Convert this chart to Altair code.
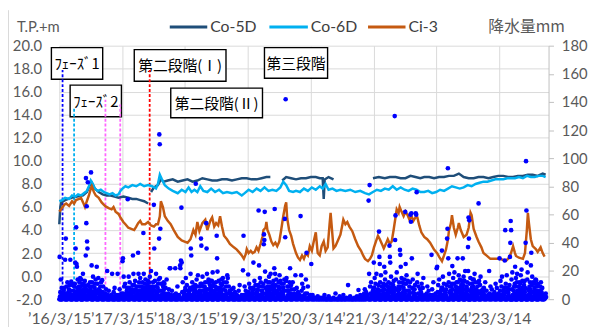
import altair as alt
import pandas as pd

# ---------------- data ----------------
# x unit: days since 2016-03-15
tick_days = [0, 365, 730, 1095, 1460, 1825, 2190, 2555]
tick_labels = ["’16/3/15", "’17/3/15", "’18/3/15", "’19/3/15",
               "’20/3/14", "’21/3/14", "’22/3/14", "’23/3/14"]
x_end = 2842

ci3 = [(0,5.6),(11,5.8),(29,6.2),(40,6.3),(57,6.1),(74,6.5),(86,6.3),(97,6.6),(115,6.7),(126,6.8),
       (138,6.4),(149,6.0),(160,6.5),(172,7.0),(183,7.6),(189,7.8),(201,7.3),(212,7.0),(229,6.8),(246,6.4),
       (258,6.2),(269,6.05),(287,5.9),(304,5.8),(315,6.0),(327,5.6),(344,5.4),(355,5.1),(372,4.7),(384,4.5),
       (401,4.2),(418,4.1),(435,4.0),(447,4.3),(458,4.6),(470,4.8),(481,4.5),(499,4.5),(516,4.7),(533,4.4),
       (550,4.3),(562,4.5),(573,4.5),(584,5.2),(590,6.5),(602,6.0),(613,5.2),(630,4.8),(647,4.5),(665,4.0),
       (688,3.4),(711,3.1),(728,3.0),(745,2.9),(762,3.2),(779,4.0),(791,3.6),(802,4.7),(814,3.9),(831,4.6),
       (848,4.9),(860,4.0),(877,4.8),(888,5.1),(900,4.3),(911,4.6),(923,4.4),(934,5.2),(945,4.3),(957,3.5),
       (974,3.2),(991,2.8),(1014,2.5),(1031,2.3),(1049,2.0),(1060,1.8),(1072,1.5),(1083,1.9),(1089,2.35),(1100,2.0),
       (1112,2.2),(1123,2.0),(1135,2.1),(1146,2.5),(1157,2.2),(1169,2.8),(1180,3.4),(1186,4.0),(1198,4.2),(1203,4.7),
       (1209,4.0),(1220,3.6),(1232,3.0),(1243,2.7),(1255,2.9),(1266,2.6),(1278,3.0),(1289,4.0),(1301,5.2),(1312,6.1),
       (1318,6.4),(1324,5.0),(1335,4.0),(1347,3.5),(1358,2.8),(1375,2.0),(1387,1.6),(1398,1.4),(1410,1.8),(1421,1.5),
       (1433,2.0),(1444,1.8),(1455,2.6),(1467,2.2),(1478,3.0),(1490,3.8),(1501,2.0),(1513,1.8),(1524,2.6),(1536,3.0),
       (1547,2.2),(1559,2.5),(1570,4.5),(1576,5.5),(1587,3.5),(1593,2.4),(1604,2.6),(1616,3.0),(1633,3.6),(1645,4.5),
       (1650,4.9),(1662,4.5),(1673,4.7),(1685,4.3),(1702,3.9),(1719,3.2),(1736,2.6),(1753,2.2),(1765,1.8),(1776,1.5),
       (1793,1.3),(1805,1.5),(1816,1.8),(1828,2.5),(1839,3.0),(1851,3.5),(1862,3.2),(1874,2.8),(1885,2.4),(1897,2.8),
       (1908,3.2),(1920,2.8),(1931,3.0),(1942,4.0),(1954,5.2),(1960,5.8),(1971,5.5),(1977,6.0),(1988,5.6),(2000,5.2),
       (2011,5.6),(2023,5.3),(2034,4.9),(2046,5.2),(2057,4.8),(2069,5.1),(2080,5.1),(2091,4.4),(2103,3.8),(2120,3.4),
       (2137,3.2),(2154,2.9),(2177,2.3),(2195,2.0),(2206,1.7),(2223,1.3),(2235,1.8),(2246,2.3),(2258,3.2),(2263,3.9),
       (2275,4.6),(2281,5.3),(2292,4.2),(2303,3.6),(2315,4.2),(2321,4.6),(2332,4.0),(2349,3.4),(2366,3.6),(2378,4.2),
       (2389,5.5),(2395,5.3),(2407,4.1),(2424,3.4),(2435,3.0),(2452,2.5),(2464,2.0),(2481,1.8),(2504,1.5),(2533,1.5),
       (2561,1.5),(2579,1.4),(2596,1.35),(2613,1.6),(2624,2.0),(2636,2.6),(2647,2.0),(2653,1.75),(2670,1.6),(2693,1.5),
       (2705,2.0),(2716,4.0),(2722,5.5),(2728,4.6),(2739,3.2),(2750,2.6),(2768,2.35),(2779,2.1),(2796,2.5),(2808,2.0),
       (2819,1.7)]

co6d = [(0,6.5),(17,6.6),(34,6.8),(57,6.7),(74,7.0),(92,6.9),(109,7.1),(126,7.0),(143,7.2),(160,7.4),
        (172,7.8),(183,8.3),(195,8.0),(206,7.6),(223,7.4),(241,7.5),(258,7.3),(275,7.2),(292,7.1),(309,7.2),
        (327,7.0),(344,7.1),(355,7.4),(367,7.6),(384,7.8),(401,7.7),(424,7.9),(447,7.8),(470,8.0),(493,7.8),
        (516,7.9),(539,7.8),(562,7.6),(573,8.0),(584,8.8),(596,8.4),(613,7.9),(636,7.6),(659,7.4),(688,7.2),
        (711,7.5),(733,7.3),(751,7.7),(768,7.3),(785,7.5),(802,7.3),(819,7.8),(837,7.4),(860,7.3),(882,7.6),
        (905,7.3),(928,7.5),(951,7.2),(974,7.3),(1003,7.2),(1031,7.3),(1060,7.0),(1077,7.2),(1100,7.5),(1123,7.3),
        (1146,7.6),(1169,7.4),(1192,7.7),(1215,7.4),(1238,7.5),(1261,7.4),(1284,7.7),(1301,8.2),(1318,7.9),(1335,7.4),
        (1358,7.3),(1375,7.4),(1398,7.3),(1421,7.6),(1444,7.4),(1467,7.7),(1490,7.5),(1513,7.8),(1530,7.6),(1547,8.0),
        (1564,7.5),(1587,7.6),(1610,7.4),(1633,7.5),(1662,7.4),(1690,7.5),(1719,7.3),(1748,7.4),(1776,7.2),(1799,7.1),
        (1822,7.3),(1845,7.5),(1868,7.4),(1891,7.6),(1914,7.5),(1937,7.8),(1960,7.5),(1983,7.7),(2006,7.5),(2029,7.4),
        (2052,7.6),(2075,7.5),(2098,7.3),(2120,7.3),(2143,7.4),(2166,7.2),(2189,7.3),(2212,7.5),(2235,7.4),(2258,7.6),
        (2281,7.8),(2303,7.7),(2326,7.6),(2349,7.7),(2372,7.9),(2395,7.8),(2418,8.0),(2441,8.1),(2464,8.2),(2487,8.2),
        (2510,8.3),(2533,8.4),(2556,8.4),(2579,8.4),(2602,8.5),(2624,8.5),(2647,8.5),(2670,8.6),(2693,8.5),(2716,8.7),
        (2739,8.6),(2762,8.6),(2785,8.7),(2808,8.7),(2825,8.6)]

# None marks a gap in the record
co5d = [(0,4.5),(6,6.0),(11,6.4),(34,6.6),(69,6.8),(103,6.9),(138,7.0),(160,7.3),(178,7.9),(189,8.1),
        (206,7.6),(229,7.3),(252,7.1),(275,7.0),(298,7.0),(321,6.9),(344,6.8),(372,6.9),(401,6.8),(424,6.7),
        (447,6.7),(470,6.6),(493,6.5),(516,6.3), None,
        (533,7.3),(550,7.7),(573,7.9),(590,8.4),(607,8.2),(630,8.3),(659,8.4),(688,8.2),(716,8.3),(745,8.4),
        (774,8.2),(802,8.3),(831,8.5),(860,8.4),(888,8.3),(917,8.3),(945,8.4),(974,8.4),(1003,8.3),(1031,8.4),
        (1060,8.5),(1089,8.5),(1117,8.4),(1146,8.4),(1175,8.5),(1203,8.6),(1226,8.6), None,
        (1295,8.3),(1318,8.6),(1347,8.5),(1375,8.4),(1404,8.5),(1433,8.5),(1461,8.6),(1490,8.6),(1513,8.5),(1530,8.5),
        (1536,6.7),(1542,8.4),(1564,8.6),(1593,8.4), None,
        (1822,8.5),(1856,8.6),(1891,8.5),(1920,8.6),(1954,8.6),(1983,8.5),(2011,8.5),(2040,8.7),(2069,8.6),(2097,8.5),
        (2120,8.6),(2149,8.6),(2177,8.5),(2206,8.6),(2235,8.6),(2263,8.7),(2292,8.7),(2321,8.9),(2349,8.6),(2378,8.5),
        (2407,8.5),(2435,8.6),(2464,8.6),(2493,8.5),(2521,8.6),(2550,8.7),(2579,8.7),(2607,8.6),(2636,8.6),(2664,8.7),
        (2693,8.7),(2722,8.8),(2750,8.8),(2779,8.7),(2808,8.9),(2825,8.8)]

# daily rainfall dots (mm), one string per month-long slot starting 2016-03-15
rain_slots = [
    "0 30 0 2 5 0 14 0 1 0 8 0 3 0",
    "0 4 28 0 0 43 1 0 9 0 2 0 12 0",
    "0 1 28 0 6 0 12.6 0 3 0 10 0 2 0",
    "0 26 0 36 5 0 51 0 25 2 23 0 8 0 14 0",
    "0 3 0 9 0 14 1 0 6 0 11 0 4 0 18 0",
    "0 31 86 0 54 7 66 0 41 2 36 0 83 10 0 5",
    "0 90 3 0 24 0 12 5 0 9 0 16 0 2 0",
    "0 6 0 23 0 1 11 0 4 0 15 0 7 0",
    "0 2 0 13.5 0 5 0 9 0 1 0 4 0",
    "0 0 20 0 3 0 0 6 0 1 0 0",
    "0 18 0 0 2 0 5 0 0 8 0 0",
    "0 0 18 0 3 0 0 1 0 7 0 0",
    "0 27 0 29 4 0 16 0 9 0 2 0 11 0",
    "0 71 0 3 0 16 0 8 0 12 0 5 0 1",
    "0 31 0 18 5 0 10 0 2 0 13 0 7 0",
    "0 33 0 18 2 0 12 0 6 0 9 0 15 0 3 0",
    "0 47 0 18 4 0 8 0 11 0 2 0 14 0 6 0",
    "0 5 0 12 0 9 0 16 0 3 0 7 0 20 0",
    "0 67 0 36 6 0 13 0 2 0 9 0 18 0 4 0",
    "0 43 117 0 110 15 0 50 0 6 0 11 0 3 0",
    "0 11 0 4 0 8 0 2 0 14 0 0",
    "0 22 0 22 0 3 0 0 6 0 1 0",
    "0 0 22 0 4 0 0 2 0 9 0 0",
    "0 24 22 0 27.5 0 65 26 0 5 0 12 0",
    "0 8 0 15 0 3 0 10 0 1 0 6 0",
    "0 18 36 0 31 0 7 0 12 0 3 0 9 0",
    "0 82 0 5 0 14 0 9 0 2 0 17 0 4 0",
    "0 43 0 38 0 11 0 6 0 16 0 2 0 9 0",
    "0 54 0 36 0 18 0 7 0 12 0 3 0 14 0",
    "0 6 0 13 0 9 0 19 0 2 0 11 0 5 0",
    "0 45 0 29 0 19.6 0 8 0 4 0 13 0 6 0",
    "0 10 0 3 0 15 0 7 0 12 0 2 0",
    "0 17 0 15 0 4 0 9 0 1 0 6 0",
    "0 0 3 0 8 0 0 1 0 5 0 0",
    "0 0 2 0 6 0 0 10 0 1 0 0",
    "0 20.5 0 45 0 3 0 9 0 1 0 6 0",
    "0 17.5 0 5 0 11 0 2 0 8 0 3 0",
    "0 26 0 7 0 13 0 4 0 10 0 1 0",
    "0 63 0 24 0 9 0 15 0 3 0 12 0 6 0",
    "0 39 46 0 42 0 62 0 19.6 0 8 0 13 0 4 0",
    "0 16 0 5 0 12 0 9 0 18 0 2 0 7 0",
    "0 22 0 64 0 18 0 10 0 4 0 14 0 6 0",
    "0 17 0 8 0 13 0 3 0 11 0 5 0",
    "0 57 0 44 0 142 0 13 0 15 0 6 0 9 0",
    "0 22 0 4 0 10 0 7 0 2 0 12 0",
    "0 17 0 3 0 8 0 1 0 5 0",
    "0 59 0 17 0 6 0 11 0 2 0 8 0",
    "0 14 0 33 0 4 0 9 0 1 0 0",
    "0 25 0 0 3 0 0 1 0 0",
    "0 0 0 2 0 0 0 0 1 0",
    "0 0 1 0 0 0 3 0 0 0",
    "0 0 0 0 2 0 0 0 0 0",
    "0 0 0 1 0 0 0 4 0 0",
    "0 0 0 0 0 2 0 0 0 0",
    "0 0 3 0 0 0 0 0 1 0",
    "0 10 0 0 0 2 0 0 0 0",
    "0 0 0 1 0 0 0 0 2 0",
    "0 6.5 0 0 0 3 0 0 0 1 0",
    "0 2 0 4 0 7 0 1 0 5 0",
    "0 70 0 18 0 81 0 9 0 4 0 12 0",
    "0 26 0 8 0 15 0 3 0 11 0 5 0 18 0",
    "0 48 0 30 0 25 0 12 0 6 0 17 0 3 0 9 0",
    "0 23 0 7 0 14 0 19 0 4 0 10 0 2 0",
    "0 38 0 30 0 26 0 11 0 16 0 5 0 8 0",
    "0 130 0 42 0 59.5 0 14 0 7 0 19 0 3 0",
    "0 35 0 31.5 0 23 0 9 0 15 0 4 0 12 0",
    "0 62 0 25 0 11 0 17 0 6 0 2 0 13 0",
    "0 60 0 55 0 61 0 29 0 8 0 14 0 5 0",
    "0 61 0 60 0 76 0 12 0 18 0 4 0 9 0",
    "0 5 0 11 0 3 0 8 0 15 0 1 0",
    "0 0 4 0 9 0 2 0 6 0 0",
    "0 31.5 0 7 0 3 0 12 0 1 0",
    "0 22 0 23 0 5 0 10 0 2 0 14 0",
    "0 34.5 0 8 0 16 0 3 0 11 0 6 0",
    "0 43 0 50 0 93 0 29 0 12 0 18 0 5 0 9 0",
    "0 23.5 0 7 0 15 0 3 0 11 0 19 0",
    "0 29 0 12 0 5 0 17 0 8 0 2 0 14 0",
    "0 29 0 10 0 16 0 4 0 13 0 7 0 20 0",
    "0 37 20 0 58 0 43 0 56 0 11 0 6 0 15 0 3 0",
    "0 9 0 14 0 5 0 18 0 2 0 12 0 7 0",
    "0 68 0 13 0 4 0 10 0 16 0 6 0",
    "0 8 0 3 0 12 0 1 0 6 0",
    "0 20 0 4 0 9 0 2 0 7 0",
    "0 5 0 1 0 11 0 3 0 8 0",
    "0 29 0 6 0 13 0 3 0 9 0 16 0",
    "0 27.5 0 49 0 11 0 5 0 17 0 8 0",
    "0 30 0 40 0 55.5 0 49 0 14 0 7 0 19 0 3 0",
    "0 23 0 9 0 15 0 4 0 12 0 18 0 6 0",
    "0 11 0 17 0 6 0 21 0 3 0 13 0 8 0",
    "0 40 0 98 0 63 0 26 0 14 0 19 0 7 0",
    "0 24 0 33 0 10 0 16 0 5 0 12 0",
    "0 13.5 0 6 0 9 0 2 0 11 0 4 0",
    "0 5 0 8 0 2 0 0 3 0",
]

# further small daily amounts (mm) in the same month-long slots
rain_small = [
    "1 2 0.5 4 1.5 6 3 8 2", "2 1 5 0.5 3 7 1.5 10 4", "1 3 0.5 6 2 9 1.5 4 11",
    "1 3 2 6 0.5 9 4 1.5 12 2.5 7 5 15", "2 4 1 7 0.5 10 3 1.5 13 5 8 2.5", "1 3 2 6 0.5 9 4 1.5 12 2.5 7 5",
    "2 1 5 0.5 8 3 11 1.5 6 14 4", "1 3 0.5 6 2 9 1.5 4 12", "0.5 2 1 4 1.5 7 3",
    "0.5 2 1 3 0.5", "1 0.5 3 1.5 0.5", "0.5 2 1 4 0.5 2",
    "1 2 0.5 4 1.5 6 3 8", "2 1 5 0.5 3 7 1.5 10", "1 3 0.5 6 2 9 1.5 4",
    "1 3 2 6 0.5 9 4 1.5 12 2.5 7 5", "2 4 1 7 0.5 10 3 1.5 13 5 8", "1 3 2 6 0.5 9 4 1.5 12 2.5 7",
    "2 1 5 0.5 8 3 11 1.5 6 14", "1 3 0.5 6 2 9 1.5 4 12 7", "0.5 2 1 4 1.5 7 3",
    "0.5 2 1 3 0.5", "1 0.5 3 1.5 0.5", "0.5 2 1 4 0.5 2 6",
    "1 2 0.5 4 1.5 6 3 8", "2 1 5 0.5 3 7 1.5 10", "1 3 0.5 6 2 9 1.5 4 11",
    "1 3 2 6 0.5 9 4 1.5 12 2.5 7 5", "2 4 1 7 0.5 10 3 1.5 13 5 8 2.5", "1 3 2 6 0.5 9 4 1.5 12 2.5 7",
    "2 1 5 0.5 8 3 11 1.5 6 14 4", "1 3 0.5 6 2 9 1.5 4 12", "0.5 2 1 4 1.5 7 3",
    "0.5 2 1 3 0.5", "1 0.5 3 1.5 0.5", "0.5 2 1 4 0.5 2",
    "1 2 0.5 4 1.5 6 3 8", "2 1 5 0.5 3 7 1.5 10", "1 3 0.5 6 2 9 1.5 4 11",
    "1 3 2 6 0.5 9 4 1.5 12 2.5 7 5", "2 4 1 7 0.5 10 3 1.5 13 5 8", "1 3 2 6 0.5 9 4 1.5 12 2.5 7",
    "2 1 5 0.5 8 3 11 1.5 6 14", "1 3 0.5 6 2 9 1.5 4 12", "0.5 2 1 4 1.5 7 3",
    "0.5 2 1 3 0.5", "1 0.5 3 1.5 0.5 4", "0.5 2 1 3",
    "1 0.5", "", "", "", "", "", "", "", "", "",
    "0.5 2 1 3 0.5", "1 2 0.5 4 1.5 6 3 8", "2 1 5 0.5 3 7 1.5 10 4",
    "1 3 0.5 6 2 9 1.5 4 11 7", "1 3 2 6 0.5 9 4 1.5 12 2.5 7 5", "2 4 1 7 0.5 10 3 1.5 13 5 8 2.5",
    "1 3 2 6 0.5 9 4 1.5 12 2.5 7", "2 1 5 0.5 8 3 11 1.5 6 14 4", "1 3 0.5 6 2 9 1.5 4 12",
    "2 1 4 0.5 7 3 10 1.5", "0.5 2 1 4 1.5 7 3", "0.5 2 1 3 0.5",
    "1 0.5 3 1.5 0.5", "0.5 2 1 4 0.5 2", "1 2 0.5 4 1.5 6 3 8",
    "2 1 5 0.5 3 7 1.5 10", "1 3 0.5 6 2 9 1.5 4 11", "1 3 2 6 0.5 9 4 1.5 12 2.5 7 5",
    "2 4 1 7 0.5 10 3 1.5 13 5 8 2.5", "1 3 2 6 0.5 9 4 1.5 12 2.5 7", "2 1 5 0.5 8 3 11 1.5 6 14 4",
    "1 3 0.5 6 2 9 1.5 4 12", "0.5 2 1 4 1.5 7 3 5", "0.5 2 1 3 0.5",
    "1 0.5 3 1.5 0.5", "0.5 2 1 4 0.5 2", "1 2 0.5 4 1.5 6 3 8",
    "2 1 5 0.5 3 7 1.5 10", "1 3 0.5 6 2 9 1.5 4 11", "1 3 2 6 0.5 9 4 1.5 12 2.5 7 5",
    "2 4 1 7 0.5 10 3 1.5 13 5 8 2.5", "1 3 2 6 0.5 9 4 1.5 12 2.5 7", "2 1 5 0.5 8 3 11 1.5 6 14 4",
    "1 3 0.5 6 2 9 1.5 4 12", "0.5 2 1 4 1.5",
]

# construction phases: vertical marker lines (day, top of line in T.P.+m)
event_days = [19, 86, 268, 354, 525]
event_tops = [17.9, 14.7, 15.3, 14.9, 17.9]
event_colors = ["#0000ff", "#00b0f0", "#ff66ff", "#ff66ff", "#ff0000"]

# annotation boxes: text and pixel box (x0, y0, x1, y1) relative to plot origin
box_texts = ["ﾌｪｰｽﾞ1", "ﾌｪｰｽﾞ2", "第二段階(Ⅰ)", "第二段階(Ⅱ)", "第三段階"]
box_rects = [(-8, 2, 44, 34), (11, 40, 63, 72), (76, 4, 169, 36),
             (113, 43, 206, 73), (208, 2, 272, 33)]

series_names = ["Co-5D", "Co-6D", "Ci-3"]
series_colors = ["#1f4e79", "#00b0f0", "#c55a11"]

# ---------------- frames ----------------
def series_df(pairs):
    rows, seg = [], 0
    for p in pairs:
        if p is None:
            seg += 1
            continue
        rows.append({"day": p[0], "value": p[1], "seg": seg})
    return pd.DataFrame(rows)

SLOT = 365.0 / 12
rain_rows = []
for k, (s1, s2) in enumerate(zip(rain_slots, rain_small)):
    vals = [float(v) for v in (s1 + " " + s2).split()]
    n = len(vals)
    for i, v in enumerate(vals):
        rain_rows.append({"day": k * SLOT + (i + 0.5) * SLOT / n, "mm": v})
rain_df = pd.DataFrame(rain_rows)

# ---------------- scales / axes ----------------
W, H = 496, 257
LABEL_FONT = "Lato"
GRAY = "#595959"

labels_js = "[" + ",".join("'%s'" % l for l in tick_labels) + "]"
days_js = "[" + ",".join(str(d) for d in tick_days) + "]"

x_scale = alt.Scale(domain=[0, x_end], nice=False, zero=False)
x_axis = alt.Axis(values=tick_days, labelExpr=f"{labels_js}[indexof({days_js}, datum.value)]",
                  grid=True, gridColor="#d9d9d9", domain=False, ticks=False, tickSize=0,
                  labelPadding=12, labelFontSize=16, labelFont=LABEL_FONT, labelColor=GRAY,
                  labelOverlap=False, labelBound=False, labelFlush=False, title=None)
left_scale = alt.Scale(domain=[-2, 20], nice=False, zero=False)
left_axis = alt.Axis(values=list(range(-2, 21, 2)),
                     labelExpr="datum.value < 0 ? '-' + format(-datum.value, '.1f') : format(datum.value, '.1f')",
                     grid=True, gridColor="#d9d9d9", domain=False, ticks=False, tickSize=0,
                     labelPadding=18, labelFontSize=15, labelFont=LABEL_FONT, labelColor=GRAY, title=None)
right_scale = alt.Scale(domain=[0, 180], nice=False, zero=True)
right_axis = alt.Axis(values=list(range(0, 181, 20)), orient="right", grid=False,
                      domain=True, domainColor="#bfbfbf", ticks=True, tickColor="#bfbfbf", tickSize=5,
                      labelPadding=8, labelFontSize=15, labelFont=LABEL_FONT, labelColor=GRAY, title=None)

def X(field="day"):
    return alt.X(f"{field}:Q", scale=x_scale, axis=x_axis)

def YL(field):
    return alt.Y(f"{field}:Q", scale=left_scale, axis=left_axis)

one = alt.Data(values=[{}])
layers = []

# chart frame edge
layers.append(alt.Chart(one).mark_rule(color="#d9d9d9", strokeWidth=1)
              .encode(x=alt.value(-51.5), y=alt.value(-36), y2=alt.value(H + 30)))

# annotation boxes
for txt, (x0, y0, x1, y1) in zip(box_texts, box_rects):
    layers.append(alt.Chart(one).mark_rect(fill="white", stroke="black", strokeWidth=1.4)
                  .encode(x=alt.value(x0), x2=alt.value(x1), y=alt.value(y0), y2=alt.value(y1)))
    layers.append(alt.Chart(one).mark_text(text=txt, font="Noto Sans CJK JP", fontSize=15,
                                           color="black", align="center", baseline="middle")
                  .encode(x=alt.value((x0 + x1) / 2), y=alt.value((y0 + y1) / 2 + 1)))

# phase marker lines
for d, t, c in zip(event_days, event_tops, event_colors):
    edf = pd.DataFrame({"day": [d], "lo": [-2.0], "hi": [t]})
    layers.append(alt.Chart(edf).mark_rule(color=c, strokeDash=[3, 2], strokeWidth=1.8)
                  .encode(x=X(), y=YL("lo"), y2="hi:Q"))

# series lines
for name, color, pairs in zip(series_names, series_colors, [co5d, co6d, ci3]):
    layers.append(alt.Chart(series_df(pairs)).mark_line(color=color, strokeWidth=2.5)
                  .encode(x=X(), y=YL("value"), detail="seg:N"))

# manual legend + axis titles
leg_x = [(112, 150), (213, 252), (313, 351)]
for name, color, (a, b) in zip(series_names, series_colors, leg_x):
    layers.append(alt.Chart(one).mark_rule(color=color, strokeWidth=3)
                  .encode(x=alt.value(a), x2=alt.value(b), y=alt.value(-19)))
    layers.append(alt.Chart(one).mark_text(text=name, font=LABEL_FONT, fontSize=16, color="#404040",
                                           align="left", baseline="middle")
                  .encode(x=alt.value(b + 3), y=alt.value(-19)))
layers.append(alt.Chart(one).mark_text(text="T.P.+m", font=LABEL_FONT, fontSize=15, color=GRAY,
                                       align="left", baseline="middle")
              .encode(x=alt.value(-43), y=alt.value(-19)))
layers.append(alt.Chart(one).mark_text(text="降水量mm", font="Noto Sans CJK JP", fontSize=16, color=GRAY,
                                       align="left", baseline="middle")
              .encode(x=alt.value(435), y=alt.value(-19)))

left = alt.layer(*layers)

right = alt.Chart(rain_df).mark_circle(size=22, color="#0000ff", opacity=1).encode(
    x=X(), y=alt.Y("mm:Q", scale=right_scale, axis=right_axis))

chart = (alt.layer(left, right)
         .resolve_scale(y="independent")
         .properties(width=W, height=H,
                     padding={"left": 52, "top": 36, "right": 40, "bottom": 26},
                     autosize=alt.AutoSizeParams(type="none"))
         .configure_view(strokeWidth=0))

chart.save("out.html", embed_options={"renderer": "svg", "actions": False})
